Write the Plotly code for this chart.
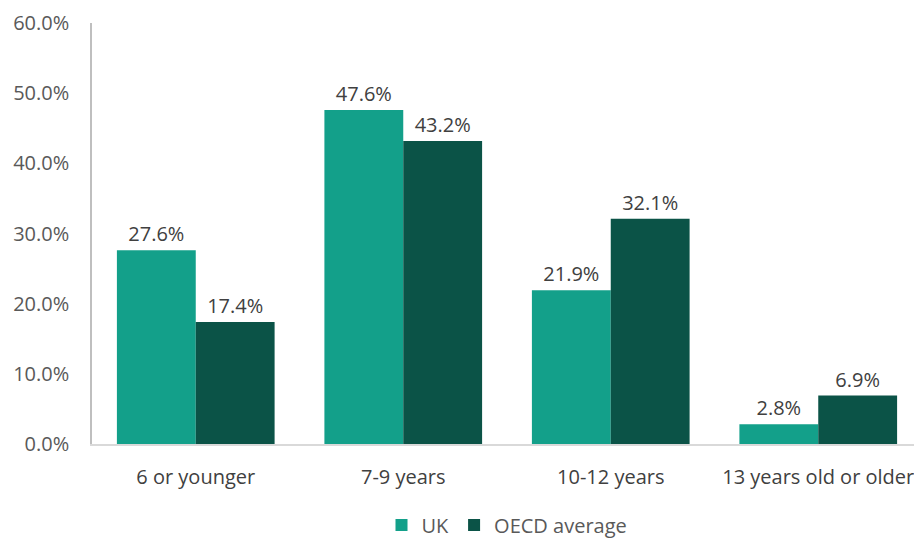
import plotly.graph_objects as go

categories = ["6 or younger", "7-9 years", "10-12 years", "13 years old or older"]
uk = [27.6, 47.6, 21.9, 2.8]
oecd = [17.4, 43.2, 32.1, 6.9]
series_names = ["UK", "OECD average"]
colors = ["#13a08a", "#0b5347"]

fig = go.Figure()
for name, vals, col in zip(series_names, [uk, oecd], colors):
    fig.add_trace(go.Bar(
        x=categories, y=vals, name=name, marker_color=col,
        marker_line_width=0,
        text=[f"{v:.1f}%" for v in vals], textposition="outside",
        textfont=dict(size=20, color="#404040"), cliponaxis=False,
    ))

fig.update_layout(
    width=914, height=532,
    barmode="group", bargap=0.24, bargroupgap=0,
    paper_bgcolor="white", plot_bgcolor="white",
    margin=dict(l=84, r=0, t=15, b=96, autoexpand=False),
    font=dict(family="Open Sans", size=20, color="#595959"),
    legend=dict(orientation="h", x=0.5, xanchor="center", xref="paper",
                y=0.028, yanchor="middle", yref="container",
                font=dict(size=20, color="#595959"), itemwidth=30),
    showlegend=True,
)
fig.update_yaxes(range=[0, 60], dtick=10, tickformat=".1f", ticksuffix="%",
                 showgrid=False, showline=True, linecolor="#bfbfbf", linewidth=1.5,
                 ticks="", ticklabelstandoff=17, zeroline=False,
                 ticklabeloverflow="allow",
                 tickfont=dict(size=20, color="#595959"))
fig.update_xaxes(showgrid=False, showline=True, linecolor="#d9d9d9", linewidth=1.5,
                 ticks="", ticklabelstandoff=14,
                 tickfont=dict(size=20, color="#404040"))

fig.write_html("out.html")
